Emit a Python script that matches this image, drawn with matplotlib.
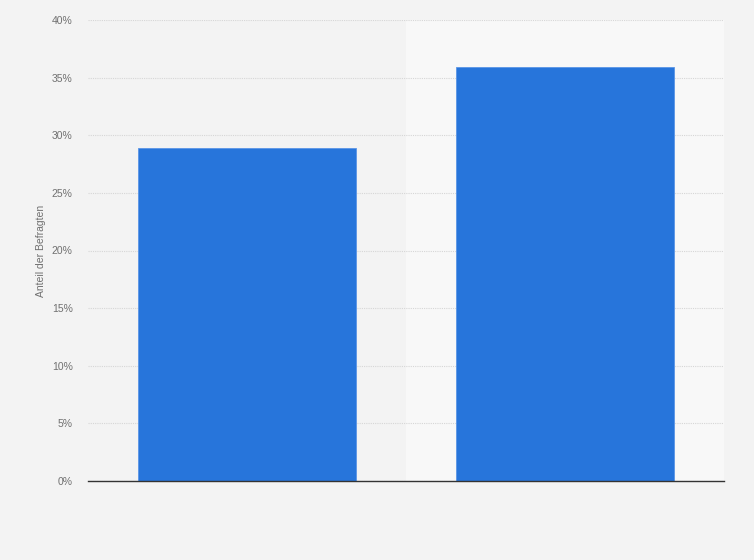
import matplotlib.pyplot as plt

# Data
categories = ["A", "B"]
values = [28.9, 35.9]
y_ticks = [0, 5, 10, 15, 20, 25, 30, 35, 40]

plt.rcParams['font.family'] = ['Liberation Sans', 'DejaVu Sans']

fig = plt.figure(figsize=(7.54, 5.6), dpi=100)
fig.patch.set_facecolor('#f3f3f3')
ax = fig.add_axes([88 / 754, 79 / 560, 636 / 754, 461 / 560])
ax.set_facecolor('#f3f3f3')

# Alternating band behind the second category
ax.axvspan(0.5, 1.5, color='#f8f8f8', zorder=0)

x = list(range(len(categories)))
ax.bar(x, values, width=0.686, color='#2775db', edgecolor='#5a95e6',
       linewidth=0.6, zorder=3)

ax.set_xlim(-0.5, 1.5)
ax.set_ylim(0, 40)
ax.set_yticks(y_ticks)
ax.set_yticklabels([f"{t}%" for t in y_ticks])
ax.set_xticks([])

ax.grid(axis='y', color='#d6d6d6', linestyle=(0, (1, 1)), linewidth=0.8, zorder=1)
for side in ['top', 'right', 'left']:
    ax.spines[side].set_visible(False)
ax.spines['bottom'].set_color('#333333')
ax.spines['bottom'].set_linewidth(1.0)
ax.spines['bottom'].set_zorder(4)

ax.tick_params(axis='y', length=0, pad=11, labelsize=7.5, labelcolor='#707070')
ax.set_ylabel("Anteil der Befragten", fontsize=7.5, color='#707070', labelpad=4)

fig.savefig("out.png", dpi=100, facecolor=fig.get_facecolor())
